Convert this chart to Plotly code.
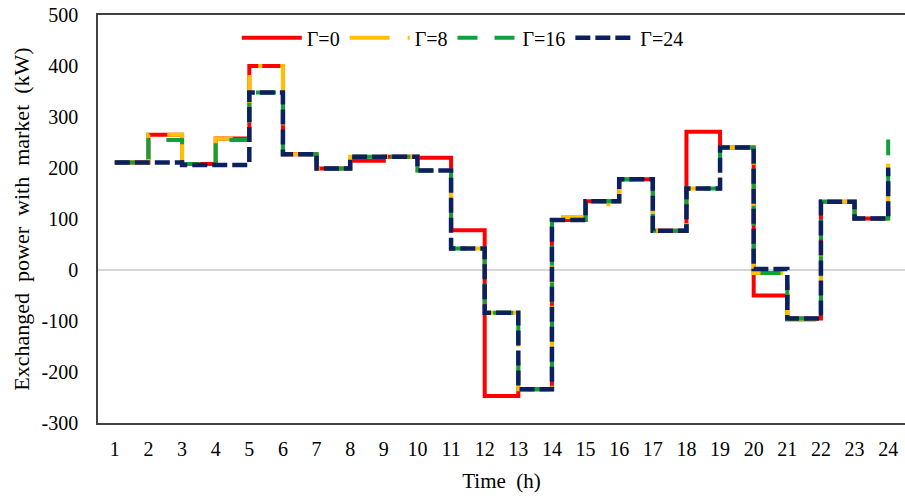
import plotly.graph_objects as go

# Hourly power exchanged with the market (kW) for each robustness budget Γ
hours = list(range(1, 25))
tick_labels = [str(h) for h in hours]
y_ticks = [-300, -200, -100, 0, 100, 200, 300, 400, 500]
y_tick_labels = ["-300", "-200", "-100", "0", "100", "200", "300", "400", "500"]

gamma_0 = [211, 265, 208, 258, 400, 227, 199, 214, 222, 220, 78, -247,
           -234, 98, 135, 178, 77, 271, 240, -50, -95, 134, 101, 101]
gamma_8 = [211, 265, 208, 258, 400, 227, 199, 222, 222, 195, 42, -84,
           -234, 104, 129, 178, 77, 160, 240, -6, -98, 134, 101, 225]
gamma_16 = [211, 255, 208, 255, 348, 227, 199, 222, 222, 195, 42, -84,
            -234, 98, 135, 178, 77, 160, 240, -6, -95, 134, 101, 256]
gamma_24 = [211, 211, 206, 206, 348, 227, 199, 222, 222, 195, 42, -84,
            -234, 98, 135, 178, 77, 160, 240, 2, -95, 134, 101, 201]

series_names = ["Γ=0", "Γ=8", "Γ=16", "Γ=24"]
series_values = [gamma_0, gamma_8, gamma_16, gamma_24]
series_colors = ["#FF0000", "#FFC000", "#12A03C", "#0B2060"]
series_dashes = ["solid", "40px,18px,4px,18px", "20px,17px", "15px,5px"]
series_widths = [4, 4, 4, 4.5]

FONT = "Liberation Serif, Times New Roman, serif"

fig = go.Figure()
for name, vals, color, dash, width in zip(series_names, series_values,
                                          series_colors, series_dashes,
                                          series_widths):
    fig.add_trace(go.Scatter(
        x=hours, y=vals, mode="lines", name=name,
        line=dict(shape="hv", color=color, dash=dash, width=width),
    ))

fig.update_layout(
    width=905, height=496,
    margin=dict(l=98, r=0, t=15, b=73),
    paper_bgcolor="white", plot_bgcolor="white",
    font=dict(family=FONT, color="black", size=20),
    showlegend=True,
    legend=dict(
        orientation="h", x=0.172, y=0.944, xanchor="left", yanchor="middle",
        itemwidth=60, bgcolor="rgba(0,0,0,0)", font=dict(size=20),
    ),
    xaxis=dict(
        range=[0.5, 24.5], tickmode="array", tickvals=hours,
        ticktext=tick_labels, showgrid=False, zeroline=False,
        showline=True, linecolor="#404040", linewidth=1.5, mirror=True,
        ticks="", ticklabelstandoff=7, tickfont=dict(size=20),
        title=dict(text="Time  (h)", font=dict(size=21), standoff=15),
    ),
    yaxis=dict(
        range=[-300, 500], tickmode="array", tickvals=y_ticks,
        ticktext=y_tick_labels, showgrid=False,
        zeroline=True, zerolinecolor="#d6d6d6", zerolinewidth=1.5,
        showline=True, linecolor="#404040", linewidth=1.5, mirror=False,
        ticks="", ticklabelstandoff=14, tickfont=dict(size=20),
        title=dict(text="Exchanged  power  with  market  (kW)",
                   font=dict(size=22), standoff=6),
    ),
)

fig.write_html("out.html")
